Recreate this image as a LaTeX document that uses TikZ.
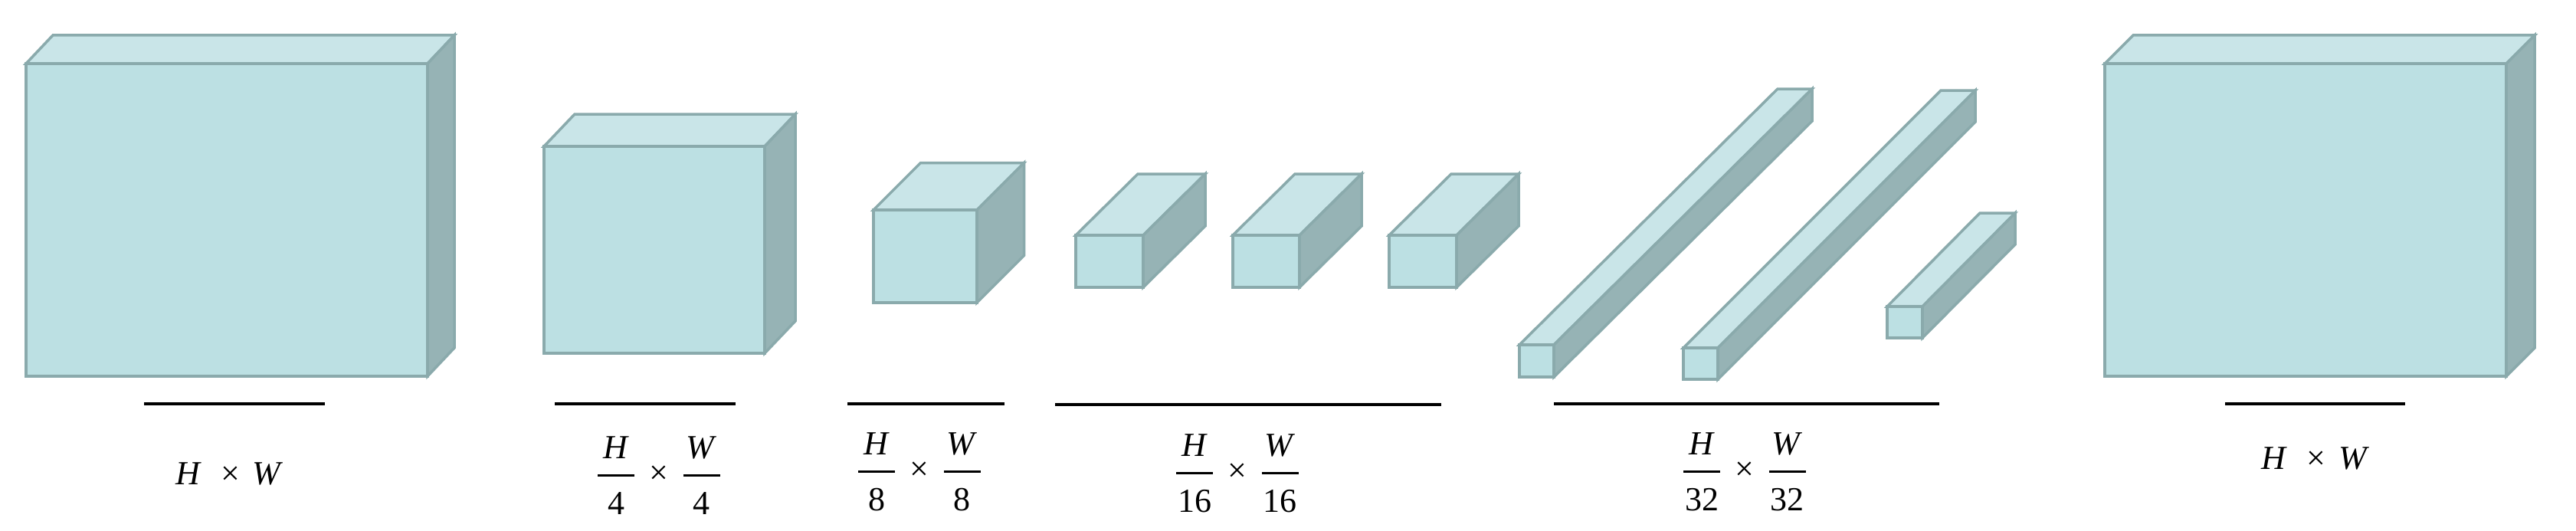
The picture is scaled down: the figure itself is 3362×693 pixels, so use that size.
\RequirePackage{fix-cm}
\documentclass[tikz,border=0pt]{standalone}
\usepackage{amsmath}
\usepackage{fontspec}
\setmainfont{Liberation Serif}
\newcommand\tms{\mathbin{\textrm{×}}}
\newcommand\myfr[2]{\genfrac{}{}{3pt}{0}{\raisebox{3.2pt}{\makebox[48pt]{#1}}}{\raisebox{-9.8pt}{\makebox[48pt]{#2}}}}
\newcommand\myfrlab[1]{$\myfr{\textit{H}}{#1}\mkern3.5mu\tms\mkern3.5mu\myfr{\textit{W}}{#1}$}
\begin{document}
\begin{tikzpicture}[x=1pt,y=-1pt,
  frontface/.style={fill=frontc,draw=edgec,line width=3.5pt,line join=miter},
  topface/.style={fill=topc,draw=edgec,line width=3.5pt,line join=miter},
  sideface/.style={fill=sidec,draw=edgec,line width=3.5pt,line join=miter},
  rule/.style={draw=black,line width=3.5pt},
  lab/.style={inner sep=0pt,font=\fontsize{44}{52}\selectfont}]
\definecolor{frontc}{RGB}{188,224,227}
\definecolor{topc}{RGB}{201,229,232}
\definecolor{sidec}{RGB}{150,179,181}
\definecolor{edgec}{RGB}{138,170,172}
\useasboundingbox (0,0) rectangle (3362,693);
\fill[white] (0,0) rectangle (3362,693);
% cuboid: x1 y1 x2 y2 dx d
\newcommand\mycuboid[6]{%
  \draw[topface] (#1,#2) -- ({#1+#5},{#2-#6}) -- ({#3+#5},{#2-#6}) -- (#3,#2) -- cycle;
  \draw[sideface] (#3,#2) -- ({#3+#5},{#2-#6}) -- ({#3+#5},{#4-#6}) -- (#3,#4) -- cycle;
  \draw[frontface] (#1,#2) rectangle (#3,#4);}
\mycuboid{34}{83}{558}{491}{35}{37}
\mycuboid{710}{191}{998}{461}{40}{42}
\mycuboid{1140}{274}{1275}{395}{61.5}{61.5}
\mycuboid{1404}{307}{1492}{375}{81}{80}
\mycuboid{1609}{307}{1696}{375}{81}{80}
\mycuboid{1813}{307}{1901}{375}{81}{80}
\mycuboid{1983}{450}{2028}{492}{337}{334}
\mycuboid{2197}{454}{2242}{495}{336}{336}
\mycuboid{2463}{400}{2509}{441}{121}{122}
\mycuboid{2747}{83}{3271}{491}{37}{37}
% rules
\coordinate (r1a) at (188,527); \coordinate (r1b) at (424,527);
\coordinate (r2a) at (724,527); \coordinate (r2b) at (960,527);
\coordinate (r3a) at (1106,527); \coordinate (r3b) at (1311,527);
\coordinate (r4a) at (1377,528); \coordinate (r4b) at (1881,528);
\coordinate (r5a) at (2028,527); \coordinate (r5b) at (2531,527);
\coordinate (r6a) at (2904,527); \coordinate (r6b) at (3139,527);
\draw[rule] (r1a) -- (r1b);
\draw[rule] (r2a) -- (r2b);
\draw[rule] (r3a) -- (r3b);
\draw[rule] (r4a) -- (r4b);
\draw[rule] (r5a) -- (r5b);
\draw[rule] (r6a) -- (r6b);
% labels
\node[lab,anchor=base] (t1) at (298,632) {$\textit{H}\mkern7mu\tms\mkern3mu\textit{W}$};
\node[lab] (t2) at (860,621) {\myfrlab{4}};
\node[lab] (t3) at (1200,616) {\myfrlab{8}};
\node[lab] (t4) at (1615,618) {\myfrlab{16}};
\node[lab] (t5) at (2277,616) {\myfrlab{32}};
\node[lab,anchor=base] (t6) at (3020,612) {$\textit{H}\mkern7mu\tms\mkern3mu\textit{W}$};
\end{tikzpicture}
\end{document}
